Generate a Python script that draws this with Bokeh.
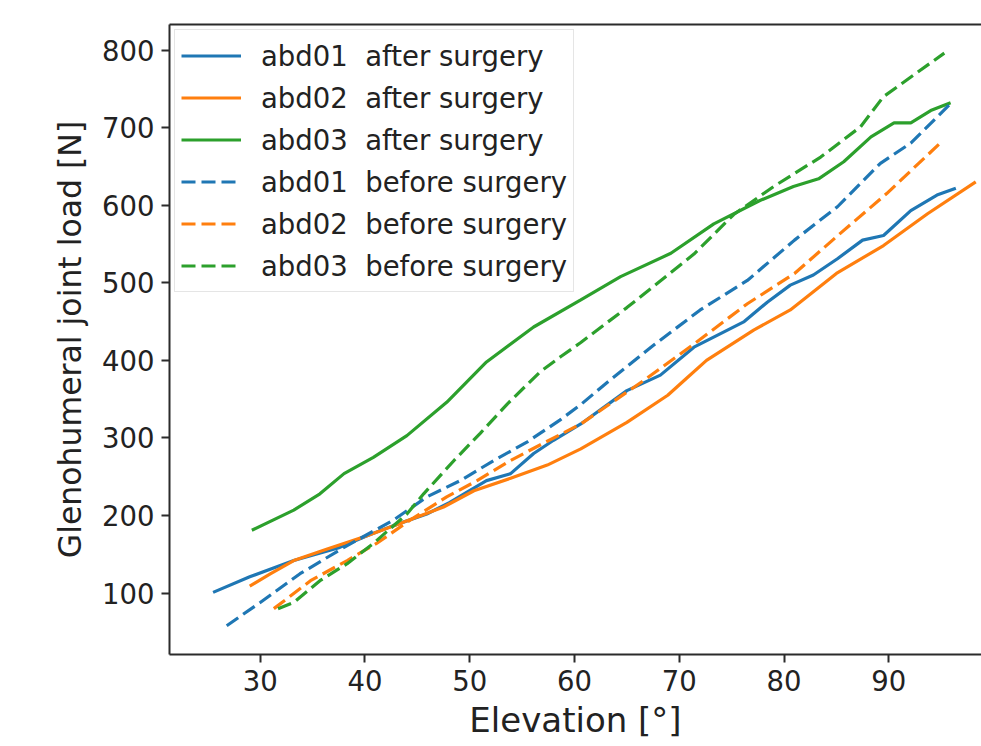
from bokeh.plotting import figure
from bokeh.models import Range1d, LinearAxis, FixedTicker, Legend, LegendItem
from bokeh.embed import file_html
from bokeh.resources import INLINE

# ---- data ----
abd01_after_x = [25.5, 29.0, 33.2, 37.6, 40.2, 42.7, 45.9, 48.1, 49.7, 51.6, 53.9, 56.1, 58.0, 60.6,
                 65.0, 68.2, 71.4, 76.2, 78.4, 80.6, 82.8, 85.1, 87.5, 89.5, 92.1, 94.6, 96.4]
abd01_after_y = [101, 121, 142, 159, 174, 187, 202, 217, 230, 245, 254, 280, 297, 318,
                 361, 381, 417, 450, 475, 497, 510, 531, 555, 561, 593, 613, 622]

abd02_after_x = [29.0, 31.0, 33.2, 36.4, 40.2, 43.4, 47.5, 50.4, 53.9, 57.4, 60.6, 65.0, 68.9,
                 70.7, 72.6, 77.1, 80.6, 85.0, 89.5, 93.7, 98.3]
abd02_after_y = [109, 125, 142, 157, 174, 190, 211, 232, 248, 265, 286, 320, 355,
                 377, 400, 439, 465, 512, 548, 589, 630]

abd03_after_x = [29.2, 33.2, 35.7, 38.0, 40.8, 44.0, 47.8, 51.6, 56.1, 60.6, 64.4, 69.2, 73.3,
                 77.7, 80.9, 83.3, 85.7, 88.3, 90.5, 92.1, 94.0, 95.9]
abd03_after_y = [181, 207, 228, 254, 275, 303, 346, 398, 443, 478, 508, 538, 576,
                 606, 624, 634, 656, 688, 706, 706, 722, 732]

abd01_before_x = [26.8, 30.0, 33.8, 38.0, 42.7, 45.9, 49.1, 52.3, 55.5, 58.6, 60.6, 62.8, 67.3,
                  72.0, 76.5, 81.0, 85.1, 89.2, 92.1, 95.9]
abd01_before_y = [58, 88, 125, 159, 194, 224, 245, 271, 295, 323, 343, 368, 417,
                  465, 503, 555, 598, 654, 680, 731]

abd02_before_x = [31.3, 34.8, 38.3, 41.1, 44.3, 47.8, 50.7, 53.9, 57.0, 60.6, 66.6, 71.4, 76.5,
                  81.0, 85.4, 89.8, 94.9]
abd02_before_y = [80, 116, 142, 164, 194, 224, 245, 271, 293, 318, 374, 421, 473,
                  512, 564, 615, 680]

abd03_before_x = [31.7, 33.2, 35.7, 38.3, 40.8, 44.0, 45.6, 48.5, 51.0, 53.6, 56.7, 58.7, 60.6,
                  65.0, 71.4, 75.2, 79.0, 83.5, 87.3, 89.5, 95.3]
abd03_before_y = [80, 88, 116, 138, 164, 202, 228, 271, 306, 344, 385, 405, 423,
                  468, 537, 588, 624, 662, 701, 740, 796]

series = [
    ("abd01  after surgery", abd01_after_x, abd01_after_y, "#1f77b4", "solid"),
    ("abd02  after surgery", abd02_after_x, abd02_after_y, "#ff7f0e", "solid"),
    ("abd03  after surgery", abd03_after_x, abd03_after_y, "#2ca02c", "solid"),
    ("abd01  before surgery", abd01_before_x, abd01_before_y, "#1f77b4", "14 6"),
    ("abd02  before surgery", abd02_before_x, abd02_before_y, "#ff7f0e", "14 6"),
    ("abd03  before surgery", abd03_before_x, abd03_before_y, "#2ca02c", "14 6"),
]

x_ticks = [30, 40, 50, 60, 70, 80, 90, 100]
y_ticks = [100, 200, 300, 400, 500, 600, 700, 800]

FONT = "DejaVu Sans"
TXT = "#222222"
SPINE = "#2b2b2b"

p = figure(width=981, height=746, output_backend="svg", toolbar_location=None,
           x_range=Range1d(21.34, 98.85), y_range=Range1d(20.9, 832.9),
           min_border_left=169, min_border_right=0, min_border_top=24, min_border_bottom=92)
p.outline_line_color = None
p.xgrid.visible = False
p.ygrid.visible = False
p.background_fill_color = "white"
p.border_fill_color = "white"

items = []
for label, xs, ys, color, dash in series:
    r = p.line(xs, ys, line_color=color, line_width=3.2, line_dash=dash)
    items.append(LegendItem(label=label, renderers=[r]))

for ax in (p.xaxis[0], p.yaxis[0]):
    ax.axis_line_color = SPINE
    ax.axis_line_width = 2
    ax.major_tick_line_color = SPINE
    ax.major_tick_line_width = 2
    ax.major_tick_out = 8
    ax.major_tick_in = 0
    ax.minor_tick_line_color = None
    ax.major_label_text_font = FONT
    ax.major_label_text_font_size = "27.5px"
    ax.major_label_text_color = TXT
    ax.axis_label_text_font = FONT
    ax.axis_label_text_font_style = "normal"
    ax.axis_label_text_color = TXT

p.xaxis[0].axis_label_text_font_size = "34px"
p.yaxis[0].axis_label_text_font_size = "31.5px"
p.xaxis[0].ticker = FixedTicker(ticks=x_ticks)
p.yaxis[0].ticker = FixedTicker(ticks=y_ticks)
p.xaxis[0].axis_label = "Elevation [°]"
p.yaxis[0].axis_label = "Glenohumeral joint load [N]"
p.xaxis[0].major_label_standoff = 7
p.xaxis[0].axis_label_standoff = 6
p.yaxis[0].major_label_standoff = 7
p.yaxis[0].axis_label_standoff = 11

top = LinearAxis(ticker=FixedTicker(ticks=[]), axis_line_color=SPINE, axis_line_width=2,
                 major_tick_line_color=None, minor_tick_line_color=None,
                 major_label_text_font_size="0px", major_label_standoff=0)
p.add_layout(top, "above")

legend = Legend(items=items, location="top_left")
legend.label_text_font = FONT
legend.label_text_font_size = "27.5px"
legend.label_text_color = TXT
legend.glyph_width = 60
legend.glyph_height = 39
legend.label_standoff = 20
legend.padding = 6
legend.spacing = 3
legend.margin = 5
legend.border_line_color = "#cccccc"
legend.border_line_width = 1.5
legend.background_fill_alpha = 0.85
p.add_layout(legend, "center")

open("out.html", "w").write(file_html(p, INLINE))
